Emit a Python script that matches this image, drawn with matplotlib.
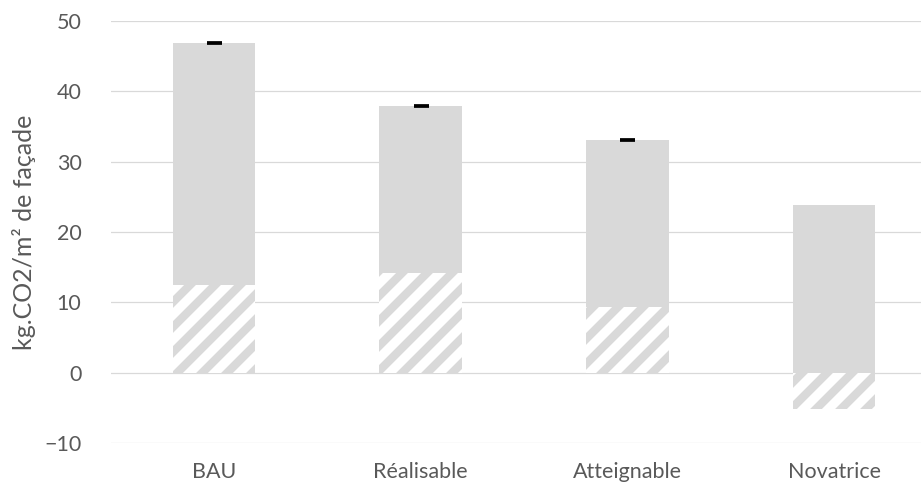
import numpy as np
import matplotlib
matplotlib.use('Agg')
import matplotlib.pyplot as plt

# valeurs
categories = ['BAU', 'Réalisable', 'Atteignable', 'Novatrice']
hatched_part = [12.5, 14.1, 9.4, -5.2]      # partie hachurée
solid_part = [34.4, 23.8, 23.7, 23.8]       # partie grise pleine
total_mark = [46.9, 37.9, 33.1, np.nan]     # trait noir
y_ticks = [-10, 0, 10, 20, 30, 40, 50]

grey = '#D9D9D9'
text_col = '#595959'

plt.rcParams['font.family'] = ['Lato', 'DejaVu Sans']
plt.rcParams['hatch.color'] = grey
plt.rcParams['hatch.linewidth'] = 4.0

fig = plt.figure(figsize=(921 / 150, 487 / 150), dpi=150)
ax = fig.add_axes([110.7 / 921, 44 / 487, 826.7 / 921, 422 / 487])

x = np.arange(len(categories))
width = 0.4

ax.bar(x, hatched_part, width, color='white', edgecolor=grey, hatch='//', linewidth=0, zorder=2)
bottoms = [max(h, 0) for h in hatched_part]
ax.bar(x, solid_part, width, bottom=bottoms, color=grey, linewidth=0, zorder=2)
ax.plot(x, total_mark, linestyle='none', marker='_', markersize=7.2, markeredgewidth=1.8,
        color='black', zorder=3)

ax.set_xlim(-0.5, 3.5)
ax.set_ylim(-10, 50)
ax.set_yticks(y_ticks)
ax.set_xticks(x)
ax.set_xticklabels(categories)
ax.yaxis.grid(True, color=grey, linewidth=0.6, zorder=0)
ax.set_axisbelow(True)
for s in ax.spines.values():
    s.set_visible(False)
ax.tick_params(axis='both', length=0, labelsize=10.3, colors=text_col)
ax.tick_params(axis='y', pad=14)
ax.tick_params(axis='x', pad=9)
ax.set_ylabel('kg.CO2/m² de façade', fontsize=12, color=text_col, labelpad=4)

fig.savefig('out.png', dpi=150)
